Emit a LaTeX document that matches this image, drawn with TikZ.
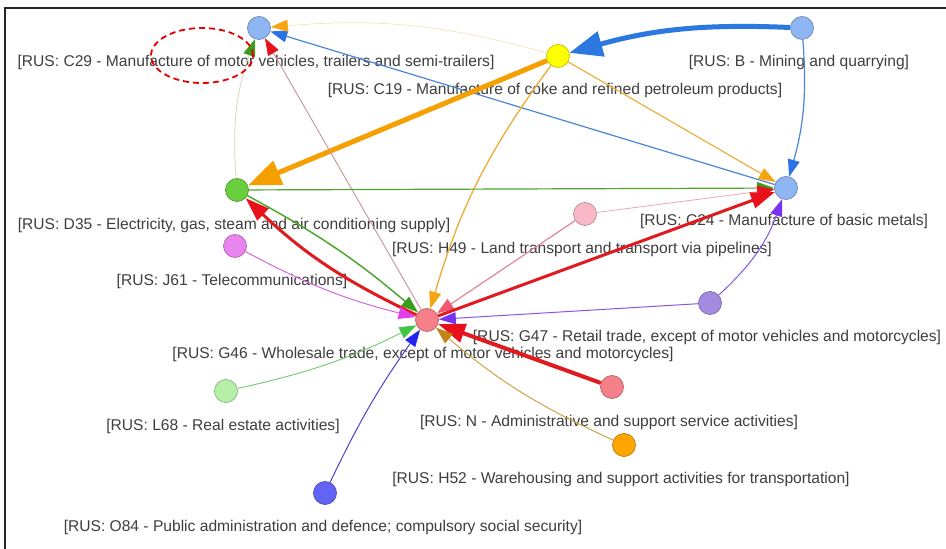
\documentclass[tikz,border=0pt]{standalone}
\usepackage{fontspec}
\setmainfont{Liberation Sans}
\usetikzlibrary{arrows.meta}

% vertex fills
\definecolor{vblue}{HTML}{8DB6F2}
\definecolor{vyellow}{HTML}{FFFF00}
\definecolor{vgreen}{HTML}{6ACF3F}
\definecolor{vpink}{HTML}{F8B8C6}
\definecolor{vviolet}{HTML}{E884EE}
\definecolor{vpurple}{HTML}{A58BE0}
\definecolor{vsalmon}{HTML}{F5808A}
\definecolor{vlgreen}{HTML}{B6F0A8}
\definecolor{vorange}{HTML}{FFA500}
\definecolor{vindigo}{HTML}{6464F4}
% edge strokes and tips
\definecolor{txt}{HTML}{3E3E3E}
\definecolor{bluethick}{HTML}{2A78E0}
\definecolor{blueln}{HTML}{4A86D4}
\definecolor{bluetip}{HTML}{2A72E6}
\definecolor{orangethick}{HTML}{F5A000}
\definecolor{orangeln}{HTML}{EDB040}
\definecolor{orangetip}{HTML}{F5A511}
\definecolor{faintorange}{HTML}{F0E6C4}
\definecolor{faintgreen}{HTML}{D8D4BC}
\definecolor{greenln}{HTML}{4FA530}
\definecolor{greentip}{HTML}{3A9C1C}
\definecolor{mauve}{HTML}{C89496}
\definecolor{redln}{HTML}{E01A1E}
\definecolor{redtip}{HTML}{E8101A}
\definecolor{magln}{HTML}{D466DE}
\definecolor{magtip}{HTML}{E040F0}
\definecolor{lgreenln}{HTML}{78D078}
\definecolor{lgreentip}{HTML}{44C444}
\definecolor{indigoln}{HTML}{4A40D0}
\definecolor{indigotip}{HTML}{2424F0}
\definecolor{pinkln}{HTML}{E38498}
\definecolor{pinktip}{HTML}{F05872}
\definecolor{pinkfaint}{HTML}{E8A8B4}
\definecolor{purpleln}{HTML}{8458E0}
\definecolor{purpletip}{HTML}{7834F0}
\definecolor{tanln}{HTML}{CCA448}
\definecolor{tantip}{HTML}{C08414}

\tikzset{
  vtx/.style={circle, minimum size=23pt, inner sep=0pt, line width=0.7pt,
              fill=#1, draw=#1!75!black},
  lbl/.style={text=txt, inner sep=0pt},
  tiph/.style={-{Triangle[length=17pt,width=12pt,color=#1]}},
  tipmid/.style={-{Triangle[length=24pt,width=16pt,color=#1]}},
  tiplarge/.style={-{Triangle[length=27pt,width=19pt,color=#1]}},
  tipbig/.style={-{Triangle[length=33pt,width=25pt,color=#1]}},
}

\begin{document}
\begin{tikzpicture}[x=1pt, y=1pt, font=\fontsize{15.6}{18}\selectfont]
\useasboundingbox (0,0) rectangle (946,549);

% frame
\draw[line width=1.6pt, black!85] (5,0) -- (5,541) -- (946,541);

% vertices
\node[vtx=vblue]   (c29) at (259,521) {};
\node[vtx=vblue]   (b)   at (802,521) {};
\node[vtx=vyellow] (c19) at (558,493) {};
\node[vtx=vgreen]  (d35) at (237,359) {};
\node[vtx=vblue]   (c24) at (786,361) {};
\node[vtx=vpink]   (h49) at (585,335) {};
\node[vtx=vviolet] (j61) at (235,303) {};
\node[vtx=vpurple] (g47) at (710,246) {};
\node[vtx=vsalmon] (g46) at (427,229) {};
\node[vtx=vlgreen] (l68) at (226,158) {};
\node[vtx=vsalmon] (n)   at (612,162) {};
\node[vtx=vorange] (h52) at (624,104) {};
\node[vtx=vindigo] (o84) at (325,56) {};

% vertex captions
\node[lbl] (c29l) at (256,487) {[RUS: C29 - Manufacture of motor vehicles, trailers and semi-trailers]};
\node[lbl] (bl)   at (799,487) {[RUS: B - Mining and quarrying]};
\node[lbl] (c19l) at (555,459) {[RUS: C19 - Manufacture of coke and refined petroleum products]};
\node[lbl] (d35l) at (234,324) {[RUS: D35 - Electricity, gas, steam and air conditioning supply]};
\node[lbl] (c24l) at (784,328) {[RUS: C24 - Manufacture of basic metals]};
\node[lbl] (h49l) at (582,300) {[RUS: H49 - Land transport and transport via pipelines]};
\node[lbl] (j61l) at (232,268) {[RUS: J61 - Telecommunications]};
\node[lbl] (g47l) at (707,212) {[RUS: G47 - Retail trade, except of motor vehicles and motorcycles]};
\node[lbl] (g46l) at (423,195) {[RUS: G46 - Wholesale trade, except of motor vehicles and motorcycles]};
\node[lbl] (l68l) at (223,123) {[RUS: L68 - Real estate activities]};
\node[lbl] (nl)   at (609,127) {[RUS: N - Administrative and support service activities]};
\node[lbl] (h52l) at (621,70)  {[RUS: H52 - Warehousing and support activities for transportation]};
\node[lbl] (o84l) at (323,22)  {[RUS: O84 - Public administration and defence; compulsory social security]};

% flows
\draw[line width=5pt, draw=bluethick, tipbig=bluethick] (b) to[bend right=9] (c19);
\draw[line width=1.2pt, draw=blueln, tiph=bluetip] (b) to[bend left=10] (c24);
\draw[line width=1.2pt, draw=blueln, tiph=bluetip] (c24) -- (c29);
\draw[line width=0.8pt, draw=faintorange, tiph=orangetip] (c19) to[bend right=10] (c29);
\draw[line width=5pt, draw=orangethick, tipbig=orangethick] (c19) -- (d35);
\draw[line width=1.2pt, draw=orangeln, tiph=orangetip] (c19) -- (c24);
\draw[line width=1.4pt, draw=orangeln, tiph=orangetip] (c19) to[bend right=10] (g46);
\draw[line width=0.8pt, draw=faintgreen, tiph=greentip] (d35) to[bend left=12] (c29);
\draw[line width=0.9pt, draw=mauve, tiph=redtip] (g46) -- (c29);
\draw[line width=1.2pt, draw=greenln, tiph=greentip] (d35) -- (c24);
\draw[line width=1.5pt, draw=greenln, tiph=greentip] (d35) to[bend left=6] (g46);
\draw[line width=3pt, draw=redln, tipmid=redtip] (g46) to[bend left=9] (d35);
\draw[line width=1pt, draw=magln, tiph=magtip] (j61) to[bend right=7] (g46);
\draw[line width=1pt, draw=lgreenln, tiph=lgreentip] (l68) to[bend right=7] (g46);
\draw[line width=1pt, draw=indigoln, tiph=indigotip] (o84) to[bend left=5] (g46);
\draw[line width=1.2pt, draw=pinkln, tiph=pinktip] (h49) -- (g46);
\draw[line width=0.8pt, draw=pinkfaint, tiph=redtip] (h49) -- (c24);
\draw[line width=3pt, draw=redln, tipmid=redtip] (g46) -- (c24);
\draw[line width=1pt, draw=purpleln, tiph=purpletip] (g47) -- (g46);
\draw[line width=1pt, draw=purpleln, tiph=purpletip] (g47) to[bend right=14] (c24);
\draw[line width=4pt, draw=redln, tiplarge=redtip] (n) -- (g46);
\draw[line width=1pt, draw=tanln, tiph=tantip] (h52) to[bend left=8] (g46);

% highlight ring
\draw[line width=1.8pt, draw=red!90!black, dash pattern=on 6pt off 4pt]
  (202,493.5) ellipse [x radius=51, y radius=27.5];
\end{tikzpicture}
\end{document}
